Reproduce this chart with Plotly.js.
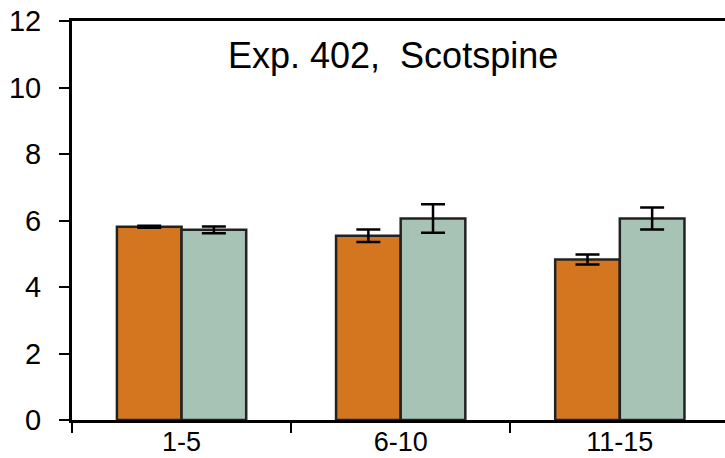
<!DOCTYPE html>
<html>
<head>
<meta charset="utf-8">
<script src="https://cdn.plot.ly/plotly-3.0.1.min.js"></script>
<style>
  html, body { margin: 0; padding: 0; background: #ffffff; }
  #chart { width: 725px; height: 458px; }
</style>
</head>
<body>
<div id="chart"></div>
<script>
const categories = ["1-5", "6-10", "11-15"];
const seriesAValues = [5.81, 5.54, 4.83];
const seriesAErrors = [0.03, 0.19, 0.15];
const seriesBValues = [5.72, 6.06, 6.06];
const seriesBErrors = [0.10, 0.43, 0.33];
const yTickValues = [0, 2, 4, 6, 8, 10, 12];
const chartTitle = "Exp.\u00a0402,\u00a0\u00a0Scotspine";

const barLine = { color: "#222222", width: 2.5 };

const traces = [
  {
    type: "bar",
    x: categories,
    y: seriesAValues,
    marker: { color: "#D4761F", line: barLine },
    error_y: { type: "data", array: seriesAErrors, visible: true, color: "#000000", thickness: 2.5, width: 12 },
    showlegend: false,
    hoverinfo: "skip"
  },
  {
    type: "bar",
    x: categories,
    y: seriesBValues,
    marker: { color: "#A6C3B5", line: barLine },
    error_y: { type: "data", array: seriesBErrors, visible: true, color: "#000000", thickness: 2.5, width: 12 },
    showlegend: false,
    hoverinfo: "skip"
  }
];

const layout = {
  width: 725,
  height: 458,
  margin: { l: 72, r: 0, t: 21, b: 38, pad: 0 },
  paper_bgcolor: "#ffffff",
  plot_bgcolor: "#ffffff",
  barmode: "group",
  bargap: 0.41,
  bargroupgap: 0,
  font: { family: "Liberation Sans, Arial, sans-serif", color: "#000000" },
  xaxis: {
    type: "category",
    range: [-0.5, 2.48],
    showline: true,
    linecolor: "#000000",
    linewidth: 3,
    mirror: true,
    ticks: "outside",
    tickson: "boundaries",
    ticklen: 10,
    tickwidth: 2,
    tickcolor: "#000000",
    showgrid: false,
    zeroline: false,
    ticklabelstandoff: -4,
    tickfont: { family: "Liberation Sans, Arial, sans-serif", size: 27, color: "#000000" }
  },
  yaxis: {
    range: [0, 12],
    tickvals: yTickValues,
    ticktext: yTickValues.map(String),
    showline: true,
    linecolor: "#000000",
    linewidth: 3,
    ticks: "outside",
    ticklen: 10,
    tickwidth: 2,
    tickcolor: "#000000",
    showgrid: false,
    zeroline: false,
    ticklabelstandoff: 12,
    tickfont: { family: "Liberation Sans, Arial, sans-serif", size: 29, color: "#000000" }
  },
  annotations: [
    {
      text: chartTitle,
      xref: "paper",
      yref: "y",
      x: 0.491,
      y: 10.95,
      xanchor: "center",
      yanchor: "middle",
      showarrow: false,
      font: { family: "Liberation Sans, Arial, sans-serif", size: 36, color: "#000000" }
    }
  ]
};

Plotly.newPlot("chart", traces, layout, { displayModeBar: false, staticPlot: true });
</script>
</body>
</html>
